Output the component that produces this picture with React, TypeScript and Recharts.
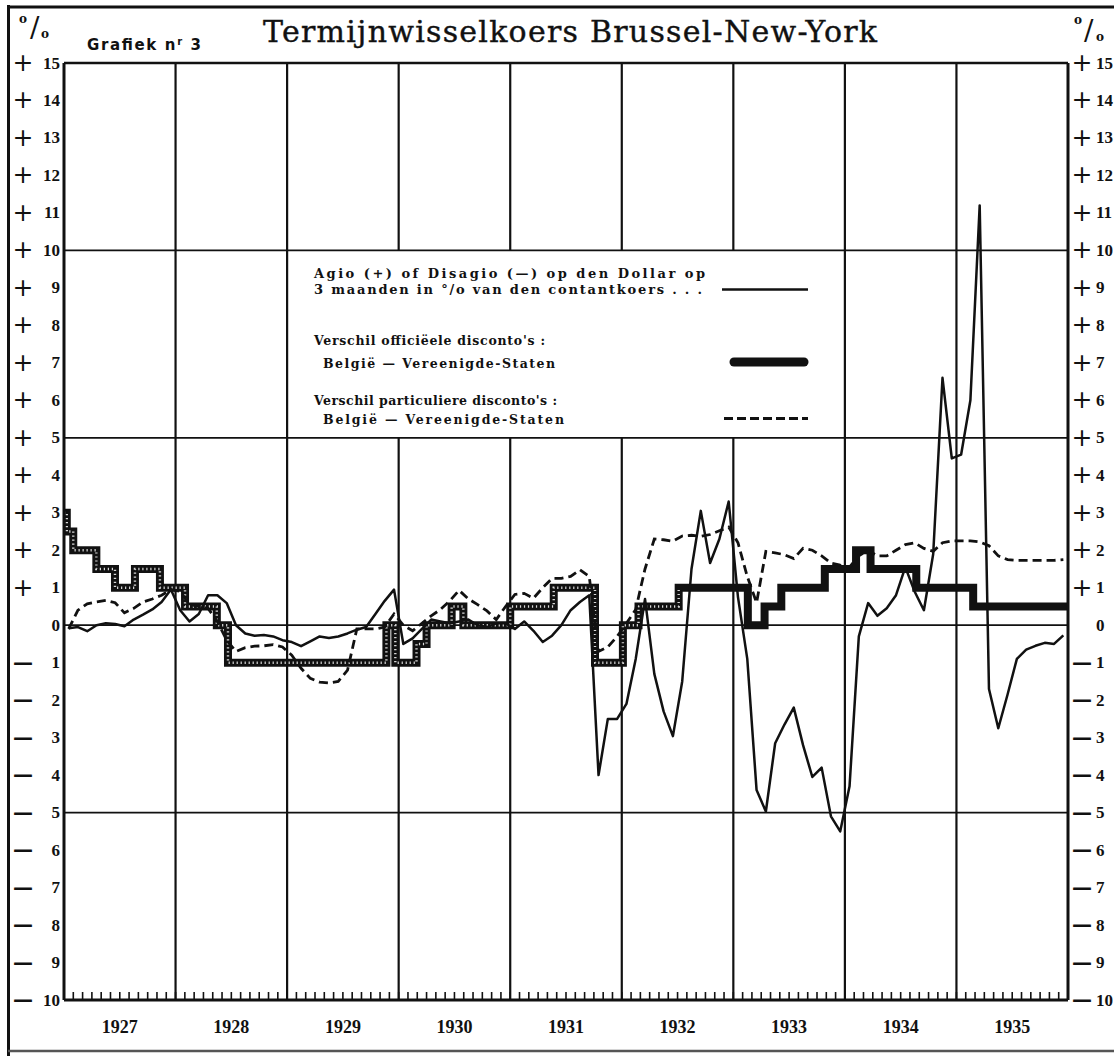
import React from 'react';
import { ComposedChart, Line, XAxis, YAxis, ReferenceLine } from 'recharts';

const START_YEAR = 1927;
const END_YEAR = 1936;
const YEAR_LABELS = ['1927', '1928', '1929', '1930', '1931', '1932', '1933', '1934', '1935'];
const GRID_YEARS = [1928, 1929, 1930, 1931, 1932, 1933, 1934, 1935];
const LEGEND_GAP_YEARS = [1930, 1931, 1932, 1933];
const Y_TICKS = [15, 14, 13, 12, 11, 10, 9, 8, 7, 6, 5, 4, 3, 2, 1, 0, -1, -2, -3, -4, -5, -6, -7, -8, -9, -10];
const MAJOR_Y = [10, 5, 0, -5];

// Agio (+) / Disagio (-) op den Dollar op 3 maanden (monthly, Jan..Dec)
const AGIO_1927 = [-0.08, -0.05, -0.16, 0.0, 0.05, 0.03, -0.03, 0.15, 0.28, 0.42, 0.62, 0.95];
const AGIO_1928 = [0.4, 0.1, 0.3, 0.8, 0.8, 0.59, 0.0, -0.22, -0.28, -0.26, -0.3, -0.4];
const AGIO_1929 = [-0.45, -0.56, -0.43, -0.3, -0.34, -0.3, -0.22, -0.12, -0.05, 0.3, 0.65, 0.95];
const AGIO_1930 = [-0.5, -0.35, -0.1, 0.15, 0.1, 0.05, 0.1, 0.15, 0.0, -0.05, 0.05, 0.05];
const AGIO_1931 = [-0.1, 0.1, -0.15, -0.45, -0.28, 0.0, 0.4, 0.62, 0.8, -4.0, -2.5, -2.5];
const AGIO_1932 = [-2.1, -0.9, 0.7, -1.3, -2.3, -2.96, -1.5, 1.5, 3.05, 1.66, 2.3, 3.3];
const AGIO_1933 = [0.75, -0.9, -4.4, -4.97, -3.15, -2.65, -2.2, -3.2, -4.05, -3.8, -5.1, -5.5];
const AGIO_1934 = [-4.3, -0.3, 0.59, 0.25, 0.45, 0.8, 1.55, 0.9, 0.4, 1.9, 6.6, 4.45];
const AGIO_1935 = [4.55, 6.0, 11.2, -1.7, -2.75, -1.85, -0.9, -0.65, -0.55, -0.47, -0.5, -0.27];

// Verschil particuliere disconto's Belgie - Vereenigde-Staten (monthly)
const PRIV_1927 = [-0.1, 0.4, 0.57, 0.62, 0.66, 0.6, 0.33, 0.45, 0.62, 0.7, 0.8, 0.95];
const PRIV_1928 = [0.9, 0.55, 0.5, 0.45, 0.1, -0.4, -0.7, -0.6, -0.56, -0.55, -0.52, -0.58];
const PRIV_1929 = [-0.8, -1.15, -1.42, -1.52, -1.54, -1.5, -1.2, -0.1, -0.1, -0.1, -0.05, 0.3];
const PRIV_1930 = [0.0, -0.15, 0.05, 0.25, 0.42, 0.65, 0.93, 0.7, 0.55, 0.38, 0.15, 0.5];
const PRIV_1931 = [0.82, 0.85, 0.72, 1.0, 1.25, 1.25, 1.3, 1.48, 1.3, -0.7, -0.58, -0.3];
const PRIV_1932 = [0.05, 0.42, 1.5, 2.3, 2.28, 2.24, 2.38, 2.4, 2.37, 2.42, 2.52, 2.62];
const PRIV_1933 = [2.2, 1.3, 0.6, 1.97, 1.93, 1.88, 1.78, 2.05, 2.0, 1.85, 1.66, 1.6];
const PRIV_1934 = [1.55, 1.85, 2.0, 1.85, 1.85, 2.0, 2.15, 2.2, 2.05, 1.97, 2.2, 2.25];
const PRIV_1935 = [2.25, 2.25, 2.22, 2.12, 1.85, 1.75, 1.73, 1.73, 1.73, 1.73, 1.73, 1.75];

// Verschil officieele disconto's: change dates (decimal years) and values
const OFFICIAL_DATES = [1927.0, 1927.025, 1927.083, 1927.29, 1927.457, 1927.636, 1927.86, 1928.085, 1928.37, 1928.47,
  1929.89, 1929.97, 1930.16, 1930.25, 1930.475, 1930.58, 1931.0, 1931.39, 1931.76, 1932.01, 1932.15, 1932.51,
  1933.13, 1933.28, 1933.43, 1933.82, 1934.1, 1934.23, 1934.64, 1935.15, 1936.0];
const OFFICIAL_VALUES = [3, 2.5, 2, 1.5, 1, 1.5, 1, 0.5, 0, -1,
  0, -1, -0.5, 0, 0.5, 0, 0.5, 1, -1, 0, 0.5, 1,
  0, 0.5, 1, 1.5, 2, 1.5, 1, 0.5, 0.5];
const STIPPLE_END = 1932.51;

const AGIO = [...AGIO_1927, ...AGIO_1928, ...AGIO_1929, ...AGIO_1930, ...AGIO_1931, ...AGIO_1932, ...AGIO_1933, ...AGIO_1934, ...AGIO_1935];
const PRIV = [...PRIV_1927, ...PRIV_1928, ...PRIV_1929, ...PRIV_1930, ...PRIV_1931, ...PRIV_1932, ...PRIV_1933, ...PRIV_1934, ...PRIV_1935];

const monthT = (i: number) => START_YEAR + (i + 0.5) / 12;
const agioData = AGIO.map((v, i) => ({ t: monthT(i), v }));
const privData = PRIV.map((v, i) => ({ t: monthT(i), v }));
const officialData = OFFICIAL_DATES.map((t, i) => ({ t, v: OFFICIAL_VALUES[i] }));
const officialStipple = officialData.filter((d) => d.t <= STIPPLE_END);
const MONTH_TICKS = Array.from({ length: (END_YEAR - START_YEAR) * 12 + 1 }, (_, k) => START_YEAR + k / 12);

const SERIF = '"DejaVu Serif", "Liberation Serif", serif';
const TIMES = '"Liberation Serif", "DejaVu Serif", serif';
const SANS = '"DejaVu Sans", sans-serif';
const INK = '#111';

function LeftTick(props: any) {
  const { x, y, payload } = props;
  const v = payload.value as number;
  return (
    <g>
      {v > 0 && <text x={23} y={y} dy={8} textAnchor="middle" fontFamily={SANS} fontSize={25} fill={INK}>+</text>}
      {v < 0 && <text x={23} y={y} dy={6} textAnchor="middle" fontFamily={SANS} fontSize={20} fontWeight="bold" fill={INK}>—</text>}
      <text x={x - 4} y={y} dy={5.5} textAnchor="end" fontFamily={TIMES} fontWeight="bold" fontSize={17} fill={INK}>{Math.abs(v)}</text>
    </g>
  );
}

function RightTick(props: any) {
  const { x, y, payload } = props;
  const v = payload.value as number;
  return (
    <g>
      {v > 0 && <text x={x + 14} y={y} dy={8} textAnchor="middle" fontFamily={SANS} fontSize={25} fill={INK}>+</text>}
      {v < 0 && <text x={x + 14} y={y} dy={6} textAnchor="middle" fontFamily={SANS} fontSize={20} fontWeight="bold" fill={INK}>—</text>}
      <text x={x + 28} y={y} dy={5.5} textAnchor="start" fontFamily={TIMES} fontWeight="bold" fontSize={17} fill={INK}>{Math.abs(v)}</text>
    </g>
  );
}

function MonthTick(props: any) {
  const { x, payload } = props;
  const k = Math.round((payload.value - START_YEAR) * 12);
  if (k % 12 !== 6) return <g />;
  const label = YEAR_LABELS[(k - 6) / 12];
  return (
    <text x={x} y={1033} textAnchor="middle" fontFamily={TIMES} fontWeight="bold" fontSize={18} fill={INK}>{label}</text>
  );
}

function Overlay() {
  const lt = { fontFamily: SERIF, fontWeight: 'bold' as const, fontSize: 12.5, fill: INK };
  return (
    <svg width={1114} height={1056} style={{ position: 'absolute', left: 0, top: 0, pointerEvents: 'none' }}>
      {/* outer frame */}
      <line x1={8.5} y1={5} x2={8.5} y2={1056} stroke={INK} strokeWidth={3} />
      <line x1={7} y1={7} x2={1114} y2={7} stroke={INK} strokeWidth={3} />
      <line x1={8} y1={1051} x2={1114} y2={1051} stroke="#555" strokeWidth={2.5} />
      {/* percent signs */}
      <text x={19} y={23} fontFamily={SERIF} fontWeight="bold" fontSize={12} fill={INK}>o</text>
      <text x={30} y={37} fontFamily={SERIF} fontSize={28} fill={INK}>/</text>
      <text x={41} y={38} fontFamily={SERIF} fontWeight="bold" fontSize={12} fill={INK}>o</text>
      <text x={1074} y={24} fontFamily={SERIF} fontWeight="bold" fontSize={12} fill={INK}>o</text>
      <text x={1084} y={40} fontFamily={SERIF} fontSize={28} fill={INK}>/</text>
      <text x={1096} y={41} fontFamily={SERIF} fontWeight="bold" fontSize={12} fill={INK}>o</text>
      {/* headings */}
      <text x={87} y={50} fontFamily={SANS} fontWeight="bold" fontSize={15} fill={INK} textLength={114} lengthAdjust="spacing">
        Grafiek n<tspan fontSize={10} dy={-5}>r</tspan><tspan dy={5}> 3</tspan>
      </text>
      <text x={263} y={42} fontFamily={SERIF} fontSize={30} fill={INK} stroke={INK} strokeWidth={0.4} textLength={614} lengthAdjust="spacing">Termijnwisselkoers Brussel-New-York</text>
      {/* legend */}
      <text x={314} y={278} {...lt} fontSize={13} textLength={391} lengthAdjust="spacing">Agio (+) of Disagio (—) op den Dollar op</text>
      <text x={314} y={294} {...lt} fontSize={13} textLength={388} lengthAdjust="spacing">3 maanden in °/o van den contantkoers . . .</text>
      <text x={314} y={345} {...lt} textLength={231} lengthAdjust="spacing">Verschil officiëele disconto's :</text>
      <text x={323} y={368} {...lt} textLength={232} lengthAdjust="spacing">België — Vereenigde-Staten</text>
      <text x={314} y={405} {...lt} textLength={243} lengthAdjust="spacing">Verschil particuliere disconto's :</text>
      <text x={323} y={424} {...lt} textLength={241} lengthAdjust="spacing">België — Vereenigde-Staten</text>
      <line x1={722} y1={289.5} x2={808} y2={289.5} stroke={INK} strokeWidth={2.6} />
      <line x1={734} y1={362} x2={804} y2={362} stroke={INK} strokeWidth={9} strokeLinecap="round" />
      <line x1={724} y1={418.5} x2={808} y2={418.5} stroke={INK} strokeWidth={3.2} strokeDasharray="9 4" />
    </svg>
  );
}

export default function App() {
  return (
    <div style={{ position: 'absolute', left: 0, top: 0, width: 1114, height: 1056, background: '#fff', overflow: 'hidden' }}>
      <ComposedChart width={1114} height={1056} margin={{ top: 63, right: 0, bottom: 0, left: 0 }}>
        <XAxis
          dataKey="t"
          type="number"
          domain={[START_YEAR, END_YEAR]}
          ticks={MONTH_TICKS}
          interval={0}
          allowDataOverflow
          height={56}
          tickSize={-8}
          tickMargin={0}
          tick={<MonthTick />}
          axisLine={{ stroke: INK, strokeWidth: 3 }}
          tickLine={{ stroke: INK, strokeWidth: 1.6 }}
        />
        <YAxis
          yAxisId="l"
          type="number"
          domain={[-10, 15]}
          ticks={Y_TICKS}
          interval={0}
          width={64}
          tickSize={0}
          tickMargin={0}
          tickLine={false}
          axisLine={{ stroke: INK, strokeWidth: 3 }}
          tick={<LeftTick />}
          allowDataOverflow
        />
        <YAxis
          yAxisId="r"
          orientation="right"
          type="number"
          domain={[-10, 15]}
          ticks={Y_TICKS}
          interval={0}
          width={46}
          tickSize={0}
          tickMargin={0}
          tickLine={false}
          axisLine={{ stroke: INK, strokeWidth: 3 }}
          tick={<RightTick />}
          allowDataOverflow
        />
        <ReferenceLine yAxisId="l" y={15} stroke={INK} strokeWidth={2.6} />
        {MAJOR_Y.map((y) => (
          <ReferenceLine key={'h' + y} yAxisId="l" y={y} stroke={INK} strokeWidth={1.7} />
        ))}
        {GRID_YEARS.filter((yr) => !LEGEND_GAP_YEARS.includes(yr)).map((yr) => (
          <ReferenceLine key={'v' + yr} yAxisId="l" x={yr} stroke={INK} strokeWidth={2.2} />
        ))}
        {LEGEND_GAP_YEARS.map((yr) => (
          <ReferenceLine key={'vl' + yr} yAxisId="l" segment={[{ x: yr, y: -10 }, { x: yr, y: 5 }]} stroke={INK} strokeWidth={2.2} />
        ))}
        {LEGEND_GAP_YEARS.map((yr) => (
          <ReferenceLine key={'vu' + yr} yAxisId="l" segment={[{ x: yr, y: 10 }, { x: yr, y: 15 }]} stroke={INK} strokeWidth={2.2} />
        ))}
        <Line
          yAxisId="l"
          data={officialData}
          dataKey="v"
          type="stepAfter"
          stroke={INK}
          strokeWidth={8}
          strokeLinejoin="miter"
          dot={false}
          isAnimationActive={false}
        />
        <Line
          yAxisId="l"
          data={officialStipple}
          dataKey="v"
          type="stepAfter"
          stroke="#d8d8d8"
          strokeWidth={2.4}
          strokeDasharray="1.2 2.8"
          dot={false}
          isAnimationActive={false}
        />
        <Line
          yAxisId="l"
          data={privData}
          dataKey="v"
          type="linear"
          stroke={INK}
          strokeWidth={2.8}
          strokeDasharray="9 5"
          dot={false}
          isAnimationActive={false}
        />
        <Line
          yAxisId="l"
          data={agioData}
          dataKey="v"
          type="linear"
          stroke={INK}
          strokeWidth={2.5}
          strokeLinejoin="round"
          dot={false}
          isAnimationActive={false}
        />
      </ComposedChart>
      <Overlay />
    </div>
  );
}
